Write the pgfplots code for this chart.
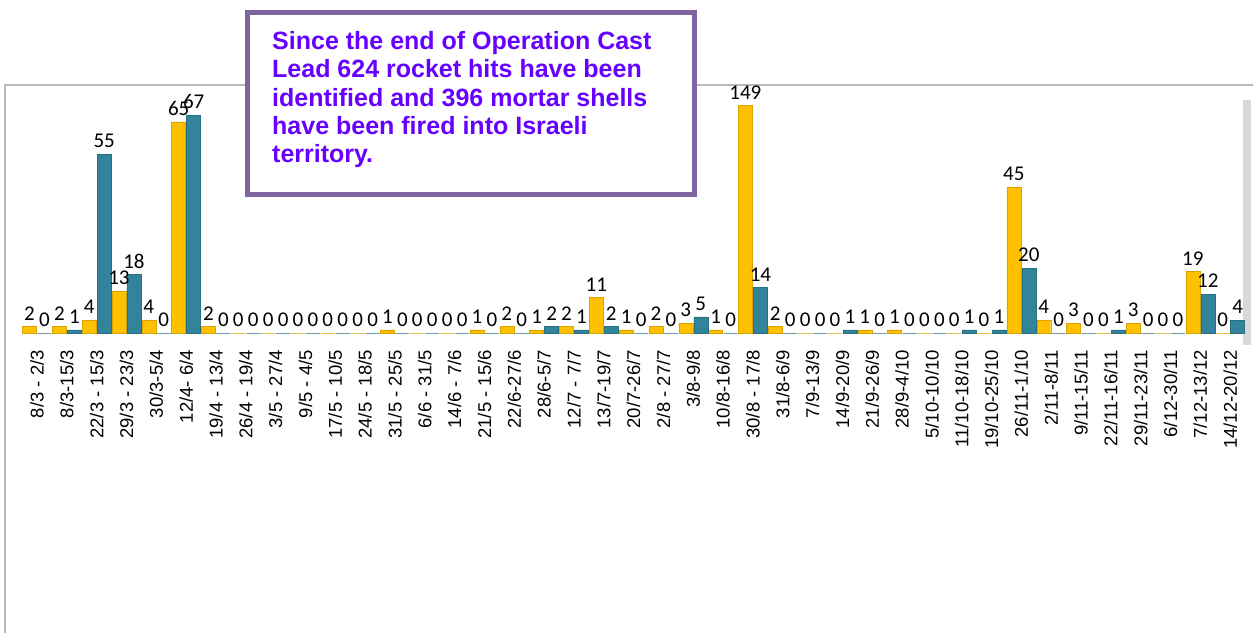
\documentclass[border=0pt]{standalone}
\usepackage{pgfplots}
\pgfplotsset{compat=1.18}
\usepackage{pgfplotstable}
\usepackage{fontspec}
\setmainfont{Liberation Sans}
\newfontfamily\carlito{Carlito}
\definecolor{rk}{HTML}{FFC000}
\definecolor{mt}{HTML}{31849B}
\definecolor{boxc}{HTML}{8064A2}
\definecolor{txtc}{HTML}{6600FF}

\pgfplotstableread{
x r m
0 2 0
1 2 1
2 4 55
3 13 18
4 4 0
5 65 67
6 2 0
7 0 0
8 0 0
9 0 0
10 0 0
11 0 0
12 1 0
13 0 0
14 0 0
15 1 0
16 2 0
17 1 2
18 2 1
19 11 2
20 1 0
21 2 0
22 3 5
23 1 0
24 149 14
25 2 0
26 0 0
27 0 1
28 1 0
29 1 0
30 0 0
31 0 1
32 0 1
33 45 20
34 4 0
35 3 0
36 0 1
37 3 0
38 0 0
39 19 12
40 0 4
}\data

\begin{document}
\begin{tikzpicture}[x=1pt,y=1pt]
\path[use as bounding box] (0,0) rectangle (1253,633);
\draw[gray!55, line width=1.3] (5,0) -- (5,548) -- (1253,548);
\fill[gray!30] (1243,288) rectangle (1251,533);
\begin{axis}[
  at={(19.1pt,300pt)}, anchor=south west,
  scale only axis, width=1226pt, height=233pt,
  xmin=-0.6, xmax=40.5, ymin=0, ymax=71.7,
  ybar=1pt, bar width=14pt,
  axis line style={draw=none},
  ytick=\empty,
  xtick={0,...,40},
  xticklabels={{8/3 - 2/3},{8/3-15/3},{22/3 - 15/3},{29/3 - 23/3},{30/3-5/4},{12/4- 6/4},{19/4 - 13/4},{26/4 - 19/4},{3/5 - 27/4},{9/5 - 4/5},{17/5 - 10/5},{24/5 - 18/5},{31/5 - 25/5},{6/6 -  31/5},{14/6 -  7/6},{21/5 - 15/6},{22/6-27/6},{28/6-5/7},{12/7 - 7/7},{13/7-19/7},{20/7-26/7},{2/8 - 27/7},{3/8-9/8},{10/8-16/8},{30/8 - 17/8},{31/8-6/9},{7/9-13/9},{14/9-20/9},{21/9-26/9},{28/9-4/10},{5/10-10/10},{11/10-18/10},{19/10-25/10},{26/11-1/10},{2/11-8/11},{9/11-15/11},{22/11-16/11},{29/11-23/11},{6/12-30/11},{7/12-13/12},{14/12-20/12}},
  major tick length=0pt,
  xticklabel style={yshift=-17pt, rotate=90, anchor=east, inner sep=0pt, font=\fontsize{18.5}{19}\selectfont},
  clip=false,
  restrict y to domain*=0:70,
  point meta=rawy,
  nodes near coords,
  /pgf/number format/assume math mode=true,
  every node near coord/.append style={font=\carlito\fontsize{21}{21}\selectfont, text=black, inner sep=1pt, yshift=5pt},
]
\addplot[fill=rk, draw=rk!85!black] table[x=x,y=r]{\data};
\addplot[fill=mt, draw=mt!85!black] table[x=x,y=m]{\data};
\end{axis}
\draw[boxc, line width=5, fill=white] (247.5,620.5) rectangle (694.5,438.5);
\begin{scope}[every node/.style={anchor=base west, inner sep=0pt, text=txtc, font=\bfseries\fontsize{25}{25}\selectfont}]
\node at (272,583) {Since the end of Operation Cast};
\node at (272,555) {Lead 624 rocket hits have been};
\node at (272,526) {identified and 396 mortar shells};
\node at (272,498) {have been fired into Israeli};
\node at (272,470) {territory.};
\end{scope}
\end{tikzpicture}
\end{document}
